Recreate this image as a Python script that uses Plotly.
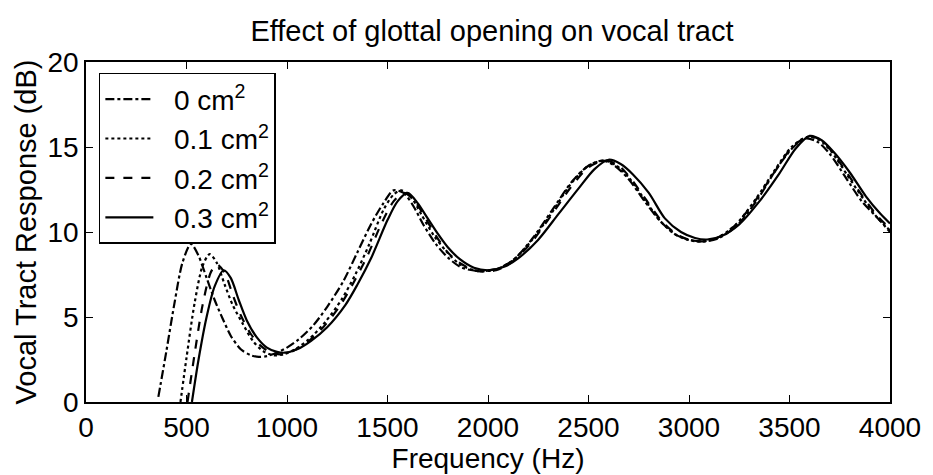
import plotly.graph_objects as go

# ---- data (frequency in Hz, response in dB) ----
f_00 = [360, 400, 440, 480, 522, 560, 600, 640, 680, 720, 770, 820, 860, 900, 950, 1000,
        1060, 1130, 1200, 1280, 1350, 1420, 1480, 1530, 1580, 1630, 1680, 1740, 1800, 1870,
        1960, 2050, 2130, 2220, 2320, 2420, 2500, 2570, 2630, 2700, 2780, 2860, 2940, 3020,
        3080, 3150, 3240, 3340, 3440, 3520, 3580, 3640, 3700, 3780, 3860, 3940, 4000]
db_00 = [0.3, 3.0, 5.8, 8.2, 9.3, 8.6, 7.3, 6.0, 4.9, 3.9, 3.1, 2.75, 2.65, 2.7, 2.9, 3.2,
         3.7, 4.5, 5.6, 7.1, 8.8, 10.5, 11.7, 12.45, 12.3, 11.5, 10.4, 9.3, 8.5, 7.9,
         7.7, 7.85, 8.4, 9.6, 11.3, 13.0, 13.9, 14.2, 13.9, 13.1, 11.8, 10.6, 9.8, 9.5,
         9.45, 9.65, 10.4, 11.9, 13.8, 15.0, 15.5, 15.3, 14.6, 13.2, 11.8, 10.8, 10.0]

f_01 = [470, 500, 540, 580, 615, 650, 690, 730, 780, 830, 880, 930, 980, 1040, 1110, 1190,
        1270, 1340, 1410, 1480, 1530, 1570, 1620, 1670, 1730, 1790, 1860, 1950, 2040, 2120,
        2210, 2310, 2410, 2500, 2580, 2640, 2700, 2780, 2860, 2940, 3010, 3070, 3140, 3230,
        3330, 3430, 3510, 3590, 3650, 3710, 3790, 3870, 3940, 4000]
db_01 = [0.0, 2.6, 5.8, 8.0, 8.7, 8.2, 6.9, 5.7, 4.6, 3.6, 3.0, 2.75, 2.8, 3.1, 3.7, 4.7,
         6.0, 7.5, 9.3, 11.3, 12.2, 12.45, 12.0, 11.0, 9.8, 8.9, 8.1, 7.7, 7.8, 8.3,
         9.4, 11.0, 12.8, 13.9, 14.2, 13.9, 13.2, 11.9, 10.6, 9.8, 9.5, 9.45, 9.65, 10.4,
         11.9, 13.7, 15.0, 15.6, 15.4, 14.7, 13.3, 11.9, 10.8, 10.1]

f_02 = [505, 540, 580, 620, 650, 690, 730, 770, 820, 870, 920, 970, 1030, 1100, 1180, 1260,
        1330, 1400, 1470, 1530, 1580, 1630, 1680, 1740, 1800, 1870, 1950, 2040, 2120, 2210,
        2310, 2410, 2500, 2580, 2640, 2700, 2780, 2860, 2940, 3010, 3070, 3140, 3230, 3330,
        3430, 3510, 3590, 3650, 3710, 3790, 3870, 3940, 4000]
db_02 = [0.0, 2.8, 5.7, 7.6, 8.1, 7.6, 6.3, 5.1, 4.0, 3.3, 2.9, 2.8, 3.0, 3.5, 4.4, 5.6,
         7.0, 8.6, 10.5, 11.8, 12.3, 11.9, 11.0, 9.8, 8.8, 8.1, 7.7, 7.75, 8.25, 9.3,
         10.9, 12.6, 13.8, 14.2, 14.0, 13.3, 12.0, 10.7, 9.85, 9.5, 9.45, 9.65, 10.4, 11.85,
         13.6, 14.95, 15.6, 15.45, 14.75, 13.4, 12.0, 10.9, 10.2]

f_03 = [527, 560, 600, 640, 685, 720, 760, 800, 850, 900, 950, 990, 1050, 1120, 1200, 1290,
        1350, 1420, 1500, 1550, 1600, 1650, 1700, 1750, 1800, 1860, 1930, 2000, 2080, 2150,
        2250, 2350, 2450, 2530, 2600, 2660, 2720, 2800, 2880, 2960, 3030, 3090, 3160, 3250,
        3350, 3450, 3530, 3600, 3660, 3720, 3800, 3880, 3950, 4000]
db_03 = [0.0, 2.5, 5.0, 6.8, 7.75, 7.3, 6.0, 4.8, 3.8, 3.2, 2.95, 2.9, 3.1, 3.6, 4.4, 5.7,
         6.9, 8.5, 10.7, 11.8, 12.3, 11.7, 10.8, 9.9, 9.1, 8.4, 7.9, 7.75, 7.95, 8.45,
         9.55, 11.05, 12.55, 13.7, 14.25, 14.0, 13.4, 12.3, 10.8, 10.0, 9.65, 9.56, 9.75, 10.45,
         11.8, 13.45, 14.9, 15.65, 15.4, 14.7, 13.5, 12.1, 11.1, 10.5]

series_names = ["0 cm<sup>2</sup>", "0.1 cm<sup>2</sup>", "0.2 cm<sup>2</sup>", "0.3 cm<sup>2</sup>"]
series_x = [f_00, f_01, f_02, f_03]
series_y = [db_00, db_01, db_02, db_03]
dash_styles = ["dashdot", "dot", "dash", "solid"]

x_ticks = [0, 500, 1000, 1500, 2000, 2500, 3000, 3500, 4000]
y_ticks = [0, 5, 10, 15, 20]

FONT = "Liberation Sans, Arial, Helvetica, sans-serif"
FS = 28
GAP = "\u00a0\u00a0"  # visual gap between legend line sample and label

fig = go.Figure()
for name, xs, ys, dash in zip(series_names, series_x, series_y, dash_styles):
    fig.add_trace(go.Scatter(
        x=xs, y=ys, name=GAP + name, mode="lines",
        line=dict(color="black", width=2.2, dash=dash, shape="spline", smoothing=0.8),
    ))

axis_common = dict(
    showline=True, linecolor="black", linewidth=1.6, mirror="ticks",
    ticks="inside", ticklen=7, tickwidth=1.3, tickcolor="black",
    showgrid=False, zeroline=False,
    tickfont=dict(family=FONT, size=FS, color="black"),
)

fig.update_layout(
    width=933, height=475,
    margin=dict(l=86, r=35, t=62, b=72),
    paper_bgcolor="white", plot_bgcolor="white",
    font=dict(family=FONT, color="black"),
    title=dict(text="Effect of glottal opening on vocal tract",
               x=(86 + 898) / 2 / 933, xanchor="center",
               y=1 - 31 / 475, yanchor="middle", yref="container",
               font=dict(family=FONT, size=29, color="black")),
    xaxis=dict(range=[0, 4000], tickvals=x_ticks,
               title=dict(text="Frequency (Hz)", standoff=0,
                          font=dict(family=FONT, size=FS, color="black")),
               **axis_common),
    yaxis=dict(range=[0, 20], tickvals=y_ticks,
               title=dict(text="Vocal Tract Response (dB)", standoff=2,
                          font=dict(family=FONT, size=29, color="black")),
               **axis_common),
    legend=dict(x=0.016, y=0.968, xanchor="left", yanchor="top",
                bordercolor="black", borderwidth=1.5, bgcolor="white",
                font=dict(family=FONT, size=FS, color="black"),
                itemwidth=48, tracegroupgap=0),
    showlegend=True,
)

fig.write_html("out.html")
